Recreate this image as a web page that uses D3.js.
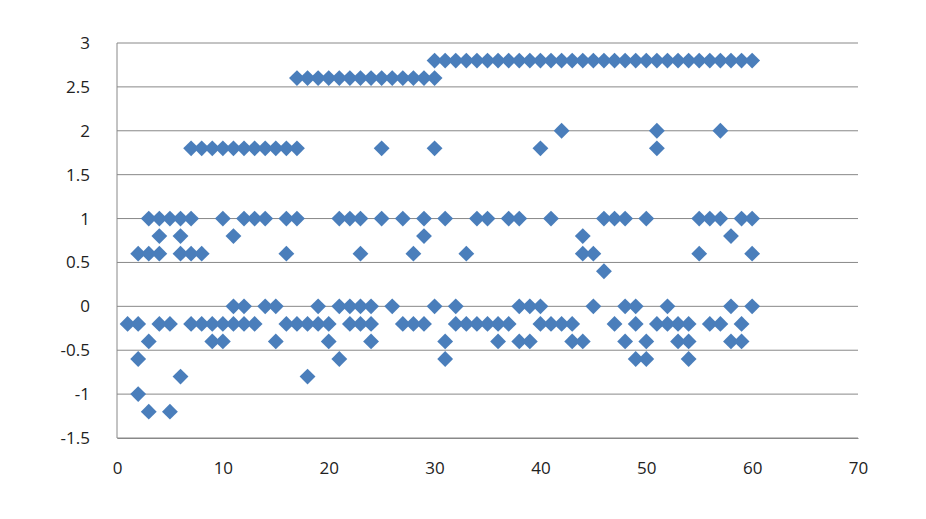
<!DOCTYPE html>
<html><head><meta charset="utf-8">
<script src="https://cdn.jsdelivr.net/npm/d3@7"></script>
<style>body{margin:0;background:#fff}text{font-family:"Open Sans","Liberation Sans",Arial,sans-serif;font-size:17px;fill:#222}</style>
</head><body><div id="chart"></div>
<script>
// y value -> list of x positions
var levels = [2.8, 2.6, 2.0, 1.8, 1.0, 0.8, 0.6, 0.4, 0, -0.2, -0.4, -0.6, -0.8, -1.0, -1.2];
var xsAt28 = [30,31,32,33,34,35,36,37,38,39,40,41,42,43,44,45,46,47,48,49,50,51,52,53,54,55,56,57,58,59,60];
var xsAt26 = [17,18,19,20,21,22,23,24,25,26,27,28,29,30];
var xsAt20 = [42,51,57];
var xsAt18 = [7,8,9,10,11,12,13,14,15,16,17,25,30,40,51];
var xsAt10 = [3,4,5,6,7,10,12,13,14,16,17,21,22,23,25,27,29,31,34,35,37,38,41,46,47,48,50,55,56,57,59,60];
var xsAt08 = [4,6,11,29,44,58];
var xsAt06 = [2,3,4,6,7,8,16,23,28,33,44,45,55,60];
var xsAt04 = [46];
var xsAt0 = [11,12,14,15,19,21,22,23,24,26,30,32,38,39,40,45,48,49,52,58,60];
var xsAtm02 = [1,2,4,5,7,8,9,10,11,12,13,16,17,18,19,20,22,23,24,27,28,29,32,33,34,35,36,37,40,41,42,43,47,49,51,52,53,54,56,57,59];
var xsAtm04 = [3,9,10,15,20,24,31,36,38,39,43,44,48,50,53,54,58,59];
var xsAtm06 = [2,21,31,49,50,54];
var xsAtm08 = [6,18];
var xsAtm10 = [2];
var xsAtm12 = [3,5];
var groups = [xsAt28,xsAt26,xsAt20,xsAt18,xsAt10,xsAt08,xsAt06,xsAt04,xsAt0,xsAtm02,xsAtm04,xsAtm06,xsAtm08,xsAtm10,xsAtm12];
var xTicks = [0,10,20,30,40,50,60,70];
var yTicks = [-1.5,-1,-0.5,0,0.5,1,1.5,2,2.5,3];

var points = [];
levels.forEach(function(y, i) { groups[i].forEach(function(x) { points.push({x: x, y: y}); }); });

var svg = d3.select("#chart").append("svg").attr("width", 926).attr("height", 519);
var x = d3.scaleLinear().domain([0, 70]).range([117, 858]);
var y = d3.scaleLinear().domain([-1.5, 3]).range([438, 43]);

svg.selectAll("line.grid").data(yTicks).enter().append("line")
  .attr("x1", 117).attr("x2", 858).attr("y1", d => y(d)).attr("y2", d => y(d))
  .attr("stroke", "#888").attr("stroke-width", 1);
svg.append("line").attr("x1", 117).attr("x2", 117).attr("y1", 43).attr("y2", 438).attr("stroke", "#888");

var fmt = d => String(d).replace("\u2212", "-");
svg.append("g").attr("transform", "translate(0,438)")
  .call(d3.axisBottom(x).tickValues(xTicks).tickSize(0).tickPadding(24))
  .call(g => { g.select(".domain").attr("stroke", "#888"); g.selectAll("text").style("font-size", "17px").attr("fill", "#222"); });
svg.append("g").attr("transform", "translate(117,0)")
  .call(d3.axisLeft(y).tickValues(yTicks).tickSize(0).tickPadding(27).tickFormat(fmt))
  .call(g => { g.select(".domain").remove(); g.selectAll("text").style("font-size", "17px").attr("fill", "#222"); });

svg.selectAll("path.pt").data(points).enter().append("path")
  .attr("d", d3.symbol(d3.symbolDiamond2, 160))
  .attr("transform", d => "translate(" + x(d.x) + "," + y(d.y) + ")")
  .attr("fill", "#4a7ebb");
</script></body></html>
